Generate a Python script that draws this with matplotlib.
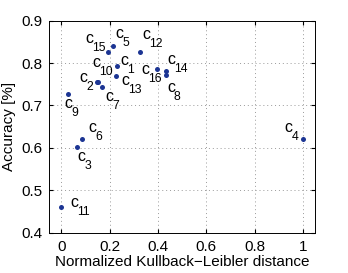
import matplotlib
matplotlib.use('Agg')
import matplotlib.pyplot as plt

plt.rcParams['font.family'] = ['Liberation Sans', 'DejaVu Sans']

# data
labels = ['1', '2', '3', '4', '5', '6', '7', '8', '9', '10',
          '11', '12', '13', '14', '15', '16']
kl_dist = [0.232, 0.146, 0.066, 1.0, 0.213, 0.084, 0.170, 0.433, 0.026, 0.152,
           0.0, 0.326, 0.226, 0.433, 0.194, 0.397]
accuracy = [0.793, 0.755, 0.601, 0.622, 0.841, 0.622, 0.743, 0.771, 0.728, 0.756,
            0.461, 0.826, 0.770, 0.781, 0.826, 0.786]

# label offsets in pixels (left edge / baseline of the "c", y down)
offsets = {
    '1': (3, -1), '2': (-17, 0), '3': (0, 14), '4': (-18, -7),
    '5': (3, -8), '6': (7, -7), '7': (3, 14), '8': (1, 17),
    '9': (-3, 14), '10': (-6, -15), '11': (9, 0), '12': (2, -13),
    '13': (5, 9), '14': (1, -7), '15': (-23, -9), '16': (-16, 5),
}
sub_dx, sub_dy = 7, 8  # subscript shift from the "c", pixels

fig = plt.figure(figsize=(3.48, 2.73), dpi=100)
ax = fig.add_axes([0.1417, 0.1476, 0.7633, 0.7766])

ax.plot(kl_dist, accuracy, 'o', color='#1c3593', ms=3.6, mew=0)

px = 72 / 100
for lab, x, y in zip(labels, kl_dist, accuracy):
    dx, dy = offsets[lab]
    ax.annotate('c', (x, y), xytext=(dx * px, -dy * px),
                textcoords='offset points', ha='left', va='baseline',
                fontsize=11.5)
    ax.annotate(lab, (x, y), xytext=((dx + sub_dx) * px, -(dy + sub_dy) * px),
                textcoords='offset points', ha='left', va='baseline',
                fontsize=8.8)

ax.set_xlim(-0.05, 1.05)
ax.set_ylim(0.4, 0.9)
ax.set_xticks([0, 0.2, 0.4, 0.6, 0.8, 1])
ax.set_xticklabels(['0', '0.2', '0.4', '0.6', '0.8', '1'])
ax.set_yticks([0.4, 0.5, 0.6, 0.7, 0.8, 0.9])
ax.tick_params(direction='in', top=True, right=True, length=3, labelsize=11, pad=5)
ax.grid(True, linestyle=(0, (1, 3)), color='#999999', linewidth=0.7)
for s in ax.spines.values():
    s.set_linewidth(0.7)

ax.set_xlabel('Normalized Kullback\u2212Leibler distance', fontsize=11, labelpad=1)
ax.set_ylabel('Accuracy [%]', fontsize=11, labelpad=4)

fig.savefig('out.png', dpi=100)
